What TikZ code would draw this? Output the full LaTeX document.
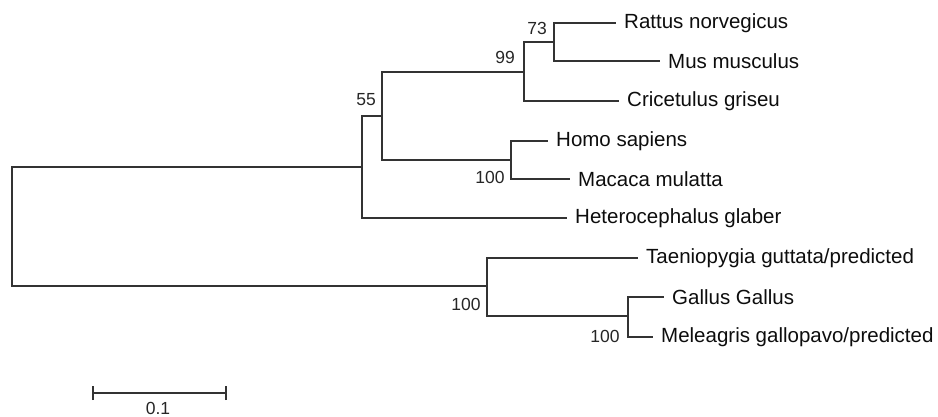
\documentclass[tikz,border=0pt]{standalone}
\usepackage{fontspec}
\setmainfont{Liberation Sans}
\begin{document}
\begin{tikzpicture}[x=1pt,y=-1pt,
  branch/.style={draw=black!80,line width=1.9pt},
  leaf/.style={anchor=west,inner xsep=8pt,inner ysep=0pt,text=black!95,font=\fontsize{20.5}{24}\selectfont},
  boot/.style={inner sep=0pt,text=black!85,font=\fontsize{17.5}{20}\selectfont}]
\useasboundingbox (0,0) rectangle (938,417);
% internal nodes
\coordinate (root) at (12,226);
\coordinate (n55) at (362,167);
\coordinate (nA) at (382,116);
\coordinate (n99) at (524,72);
\coordinate (n73) at (554,42);
\coordinate (nP) at (511,160);
\coordinate (nB) at (487,286);
\coordinate (nG) at (628,316);
% leaves
\node[leaf] (rat) at (616,23) {Rattus norvegicus};
\node[leaf] (mus) at (660,61) {Mus musculus};
\node[leaf] (cri) at (619,101) {Cricetulus griseu};
\node[leaf] (hom) at (548,141) {Homo sapiens};
\node[leaf] (mac) at (570,179) {Macaca mulatta};
\node[leaf] (het) at (567,218) {Heterocephalus glaber};
\node[leaf] (tae) at (638,258) {Taeniopygia guttata/predicted};
\node[leaf] (gal) at (664,297) {Gallus Gallus};
\node[leaf] (mel) at (653,337) {Meleagris gallopavo/predicted};
% branches
\draw[branch] (root) |- (n55);
\draw[branch] (root) |- (nB);
\draw[branch] (n55) |- (nA);
\draw[branch] (n55) |- (het.west);
\draw[branch] (nA) |- (n99);
\draw[branch] (nA) |- (nP);
\draw[branch] (n99) |- (n73);
\draw[branch] (n99) |- (cri.west);
\draw[branch] (n73) |- (rat.west);
\draw[branch] (n73) |- (mus.west);
\draw[branch] (nP) |- (hom.west);
\draw[branch] (nP) |- (mac.west);
\draw[branch] (nB) |- (tae.west);
\draw[branch] (nB) |- (nG);
\draw[branch] (nG) |- (gal.west);
\draw[branch] (nG) |- (mel.west);
% bootstrap values
\node[boot] (b73) at (537,28) {73};
\node[boot] (b99) at (505,57) {99};
\node[boot] (b55) at (366,100) {55};
\node[boot] (bP) at (490,177) {100};
\node[boot] (bB) at (466,304) {100};
\node[boot] (bG) at (605,336) {100};
% scale bar
\coordinate (sL) at (93,393);
\coordinate (sR) at (226,393);
\draw[branch] (sL) -- (sR);
\draw[branch] ([yshift=-7]sL) -- ([yshift=7]sL);
\draw[branch] ([yshift=-7]sR) -- ([yshift=7]sR);
\node[boot] (sc) at (158,408) {0.1};
\end{tikzpicture}
\end{document}
